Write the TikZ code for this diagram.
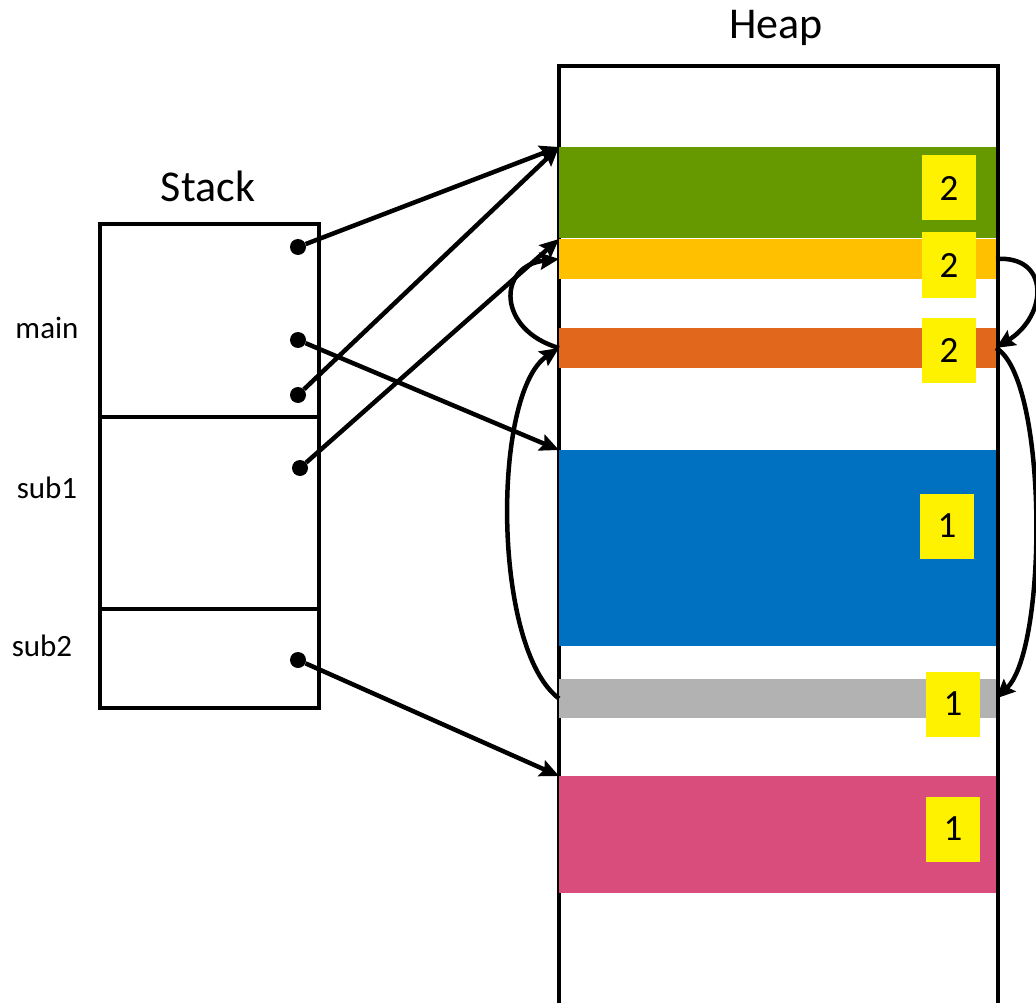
\documentclass[tikz,border=0pt]{standalone}
\usepackage{fontspec}
\setmainfont{Carlito}
\usepackage{tikz}
\usetikzlibrary{
  arrows.meta,
  positioning,
  calc
}
\definecolor{HeapGreen}{RGB}{102,153,0}
\definecolor{HeapAmber}{RGB}{255,192,0}
\definecolor{HeapOrange}{RGB}{225,103,29}
\definecolor{HeapBlue}{RGB}{0,112,192}
\definecolor{HeapGray}{RGB}{178,178,178}
\definecolor{HeapPink}{RGB}{217,77,124}
\tikzset{
  frame/.style = {draw, line width = 4pt, inner sep = 0pt, outer sep = 0pt, minimum width = 219pt},
  block/.style = {inner sep = 0pt, outer sep = 0pt, anchor = north west, minimum width = 437pt},
  count/.style = {fill = yellow, inner sep = 0pt, minimum width = 54pt, minimum height = 65pt,
                  font = \fontsize{37}{37}\selectfont},
  title/.style = {font = \fontsize{44}{44}\selectfont},
  fname/.style = {font = \fontsize{31}{31}\selectfont},
  dot/.style   = {circle, fill = black, inner sep = 0pt, minimum size = 16pt},
  ptr/.style   = {line width = 4.5pt, -{Stealth[length = 19pt, width = 17pt, inset = 3pt]}}
}

\begin{document}
\begin{tikzpicture}[x = 1pt, y = -1pt]
  \useasboundingbox (0, 0) rectangle (1036, 1003);

  % Stack frames
  \node [title] (stacktitle) at (208, 186) {Stack};
  \node [frame, minimum height = 193pt, anchor = north west] (mainframe) at (100, 224) {};
  \node [frame, minimum height = 192pt, below = 0pt of mainframe] (subaframe) {};
  \node [frame, minimum height =  99pt, below = 0pt of subaframe] (subbframe) {};

  \node [fname] (lmain) at (47, 328) {main};
  \node [fname] (lsuba) at (47, 488) {sub1};
  \node [fname] (lsubb) at (42, 646) {sub2};

  \node [dot] (pa) at (298, 247) {};
  \node [dot] (pb) at (298, 340) {};
  \node [dot] (pc) at (298, 395) {};
  \node [dot] (pd) at (300, 468) {};
  \node [dot] (pe) at (298, 660) {};

  % Heap
  \node [title] (heaptitle) at (776, 28) {Heap};
  \node [draw, line width = 4pt, inner sep = 0pt, anchor = north west,
         minimum width = 439pt, minimum height = 980pt] (heap) at (557, 64) {};

  \node [block, fill = HeapGreen,  minimum height =  91pt] (green)  at (559, 147) {};
  \node [block, fill = HeapAmber,  minimum height =  40pt] (amber)  at (559, 239) {};
  \node [block, fill = HeapOrange, minimum height =  40pt] (orange) at (559, 328) {};
  \node [block, fill = HeapBlue,   minimum height = 196pt] (blue)   at (559, 450) {};
  \node [block, fill = HeapGray,   minimum height =  39pt] (gray)   at (559, 679) {};
  \node [block, fill = HeapPink,   minimum height = 117pt] (pink)   at (559, 776) {};

  % Reference counts
  \node [count] (cgreen)  at (949, 188) {2};
  \node [count] (camber)  at (949, 265) {2};
  \node [count] (corange) at (949, 350) {2};
  \node [count] (cblue)   at (947, 526) {1};
  \node [count] (cgray)   at (953, 704) {1};
  \node [count] (cpink)   at (953, 829) {1};

  % Pointers from the stack
  \draw [ptr] (pa) -- (green.north west);
  \draw [ptr] (pc) -- (green.north west);
  \draw [ptr] (pd) -- (amber.north west);
  \draw [ptr] (pb) -- (blue.north west);
  \draw [ptr] (pe) -- (pink.north west);

  % Pointers inside the heap
  \draw [ptr] (orange.west) .. controls +(-62, -18) and +(-62, 7) .. (amber.west);
  \draw [ptr] (gray.west) .. controls +(-67, -50) and +(-67, 45) .. (orange.west);
  \draw [ptr] (amber.east) .. controls +(54, -4) and +(52, -33) .. (orange.east);
  \draw [ptr] (orange.east) .. controls +(52, 30) and +(52, -50) .. (gray.east);
\end{tikzpicture}
\end{document}
